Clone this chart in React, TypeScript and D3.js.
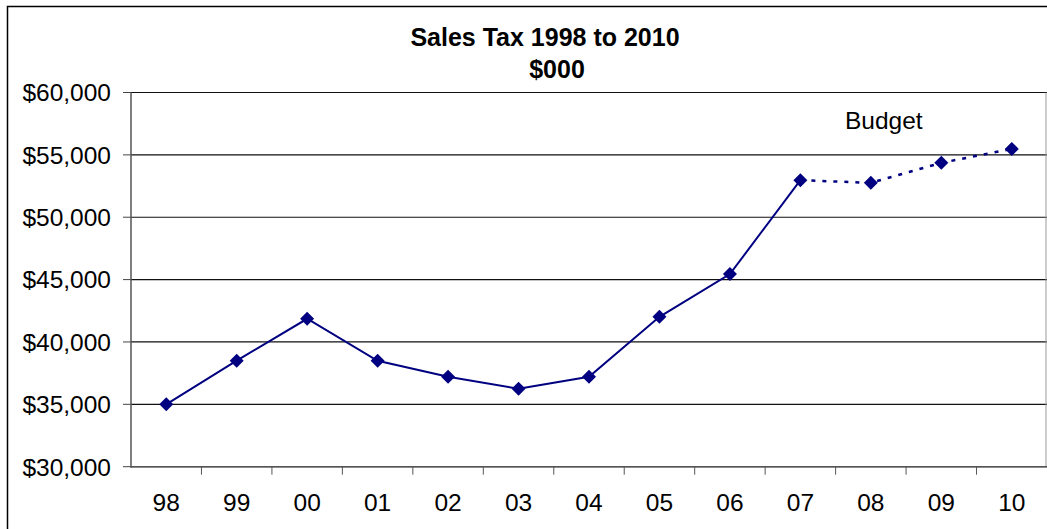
import * as d3 from "d3";

const years = ["98", "99", "00", "01", "02", "03", "04", "05", "06", "07", "08", "09", "10"];
const actual = [35000, 38500, 41860, 38490, 37210, 36250, 37210, 42020, 45440, 52970, null, null, null];
const budget = [null, null, null, null, null, null, null, null, null, 52970, 52760, 54360, 55480];
const yTicks = [30000, 35000, 40000, 45000, 50000, 55000, 60000];

const W = 1047;
const H = 529;
const left = 131;
const right = 1047;
const top = 92.5;
const bottom = 466.7;
const font = "'Liberation Sans', Arial, sans-serif";
const navy = "#000080";

export default function App() {
  const x = d3.scaleBand<string>().domain(years).range([left, right]);
  const y = d3.scaleLinear().domain([30000, 60000]).range([bottom, top]);
  const cx = (d: string) => x(d)! + x.bandwidth() / 2;

  const line = d3
    .line<number | null>()
    .defined((d) => d != null)
    .x((_, i) => cx(years[i]))
    .y((d) => y(d as number));

  const fmt = (v: number) => "$" + d3.format(",")(v);
  const r = 7;
  const diamond = (px: number, py: number) =>
    `M${px},${py - r}L${px + r},${py}L${px},${py + r}L${px - r},${py}Z`;

  const pts = years.map((yr, i) => ({ yr, v: actual[i] ?? budget[i] }));

  return (
    <svg width={W} height={H} style={{ position: "absolute", left: 0, top: 0, background: "#fff" }} fontFamily={font}>
      {/* chart border */}
      <rect x={7.5} y={6.5} width={W + 10} height={H + 10} fill="#fff" stroke="#000" strokeWidth={1.5} />

      {/* title */}
      <text x={545} y={46} textAnchor="middle" fontSize={25} fontWeight="bold" fill="#000">
        Sales Tax 1998 to 2010
      </text>
      <text x={557} y={78} textAnchor="middle" fontSize={25} fontWeight="bold" fill="#000">
        $000
      </text>

      {/* gridlines */}
      {yTicks.map((t) => (
        <g key={t}>
          <line x1={left} x2={right} y1={y(t)} y2={y(t)} stroke="#111" strokeWidth={1.2} />
          <line x1={123} x2={left} y1={y(t)} y2={y(t)} stroke="#444" strokeWidth={1} />
          <text x={111} y={y(t)} dy="0.36em" textAnchor="end" fontSize={24.5} fill="#000">
            {fmt(t)}
          </text>
        </g>
      ))}
      <line x1={right - 1} x2={right - 1} y1={top} y2={bottom} stroke="#999" strokeWidth={1} />

      {/* axes */}
      <line x1={left} x2={left} y1={top} y2={bottom + 1} stroke="#555" strokeWidth={1.5} />
      <line x1={left} x2={right} y1={bottom} y2={bottom} stroke="#555" strokeWidth={1.5} />
      {years.map((yr, i) => (
        <g key={yr}>
          {i > 0 && <line x1={x(yr)} x2={x(yr)} y1={bottom} y2={bottom + 8} stroke="#555" strokeWidth={1} />}
          <text x={cx(yr)} y={511} textAnchor="middle" fontSize={24.5} fill="#000">
            {yr}
          </text>
        </g>
      ))}

      {/* series */}
      <path d={line(actual) ?? ""} fill="none" stroke={navy} strokeWidth={2} />
      <path d={line(budget) ?? ""} fill="none" stroke={navy} strokeWidth={2.5} strokeDasharray="4 7" />
      {pts.map((p) => (
        <path key={p.yr} d={diamond(cx(p.yr), y(p.v as number))} fill={navy} />
      ))}

      <text x={845} y={129} fontSize={24.5} fill="#000">
        Budget
      </text>
    </svg>
  );
}
